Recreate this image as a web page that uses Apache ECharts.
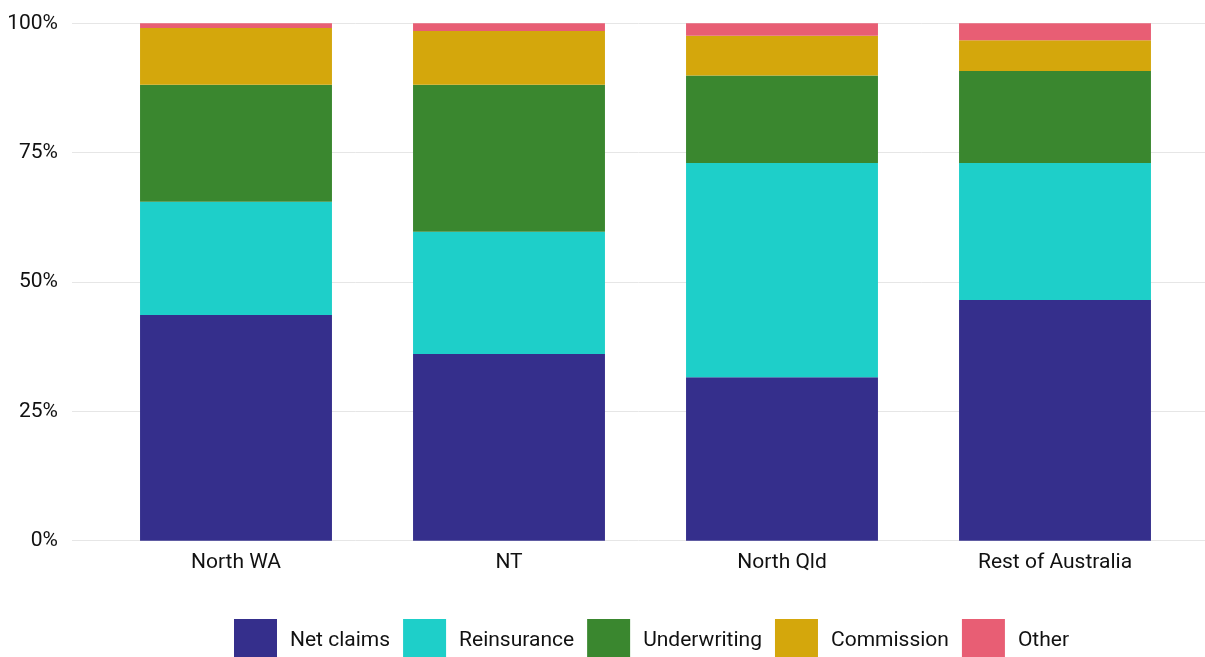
<!DOCTYPE html>
<html>
<head>
<meta charset="utf-8">
<script src="https://cdn.jsdelivr.net/npm/echarts@6/dist/echarts.min.js"></script>
<style>
  html, body { margin: 0; padding: 0; background: #ffffff; }
  #chart { width: 1205px; height: 657px; }
</style>
</head>
<body>
<div id="chart"></div>
<script>
// Share of premium by cost component, per region (percent of total)
const regions = ['North WA', 'NT', 'North Qld', 'Rest of Australia'];
const netClaims   = [43.6, 36.1, 31.6, 46.5];
const reinsurance = [21.9, 23.6, 41.4, 26.5];
const underwriting = [22.6, 28.4, 16.9, 17.8];
const commission  = [11.0, 10.4, 7.7, 5.9];
const other       = [0.9, 1.5, 2.4, 3.3];
const yTicks = [0, 25, 50, 75, 100];

const seriesDefs = [
  { name: 'Net claims', data: netClaims, color: '#352F8C' },
  { name: 'Reinsurance', data: reinsurance, color: '#1ECFC9' },
  { name: 'Underwriting', data: underwriting, color: '#3A872F' },
  { name: 'Commission', data: commission, color: '#D4A70C' },
  { name: 'Other', data: other, color: '#E85E74' }
];

const font = 'Roboto, "Noto Sans", sans-serif';
const plotTop = 23.3, plotBottom = 657 - 540.7;

const chart = echarts.init(document.getElementById('chart'), null, { renderer: 'canvas' });
chart.setOption({
  animation: false,
  backgroundColor: '#ffffff',
  grid: [
    // full-width grid carrying the percentage axis and its gridlines
    { left: 72, right: 0, top: plotTop, bottom: plotBottom },
    // grid holding the stacked bars
    { left: 99.5, right: 13.5, top: plotTop, bottom: plotBottom }
  ],
  legend: {
    left: 234,
    top: 619,
    padding: 0,
    itemWidth: 43,
    itemHeight: 43,
    itemGap: 13,
    icon: 'rect',
    data: seriesDefs.map(s => s.name),
    textStyle: { fontFamily: font, fontSize: 21, color: '#111111', padding: [2, 0, 0, 8] }
  },
  xAxis: [
    { gridIndex: 0, type: 'value', show: false, min: 0, max: 1 },
    {
      gridIndex: 1, type: 'category', data: regions,
      axisLine: { show: false }, axisTick: { show: false },
      axisLabel: { fontFamily: font, fontSize: 21, color: '#111111', margin: 12 }
    }
  ],
  yAxis: [
    {
      gridIndex: 0, type: 'value', min: yTicks[0], max: yTicks[yTicks.length - 1], interval: 25,
      axisLine: { show: false }, axisTick: { show: false },
      axisLabel: {
        fontFamily: font, fontSize: 21, color: '#111111', margin: 14,
        padding: [5, 0, 0, 0], formatter: v => v + '%'
      },
      splitLine: { lineStyle: { color: '#e6e6e6', width: 1 } }
    },
    { gridIndex: 1, type: 'value', min: 0, max: 100, show: false, splitLine: { show: false } }
  ],
  series: seriesDefs.map(s => ({
    name: s.name,
    type: 'bar',
    stack: 'total',
    xAxisIndex: 1,
    yAxisIndex: 1,
    barWidth: '70.3%',
    itemStyle: { color: s.color },
    emphasis: { disabled: true },
    data: s.data
  }))
});
</script>
</body>
</html>
